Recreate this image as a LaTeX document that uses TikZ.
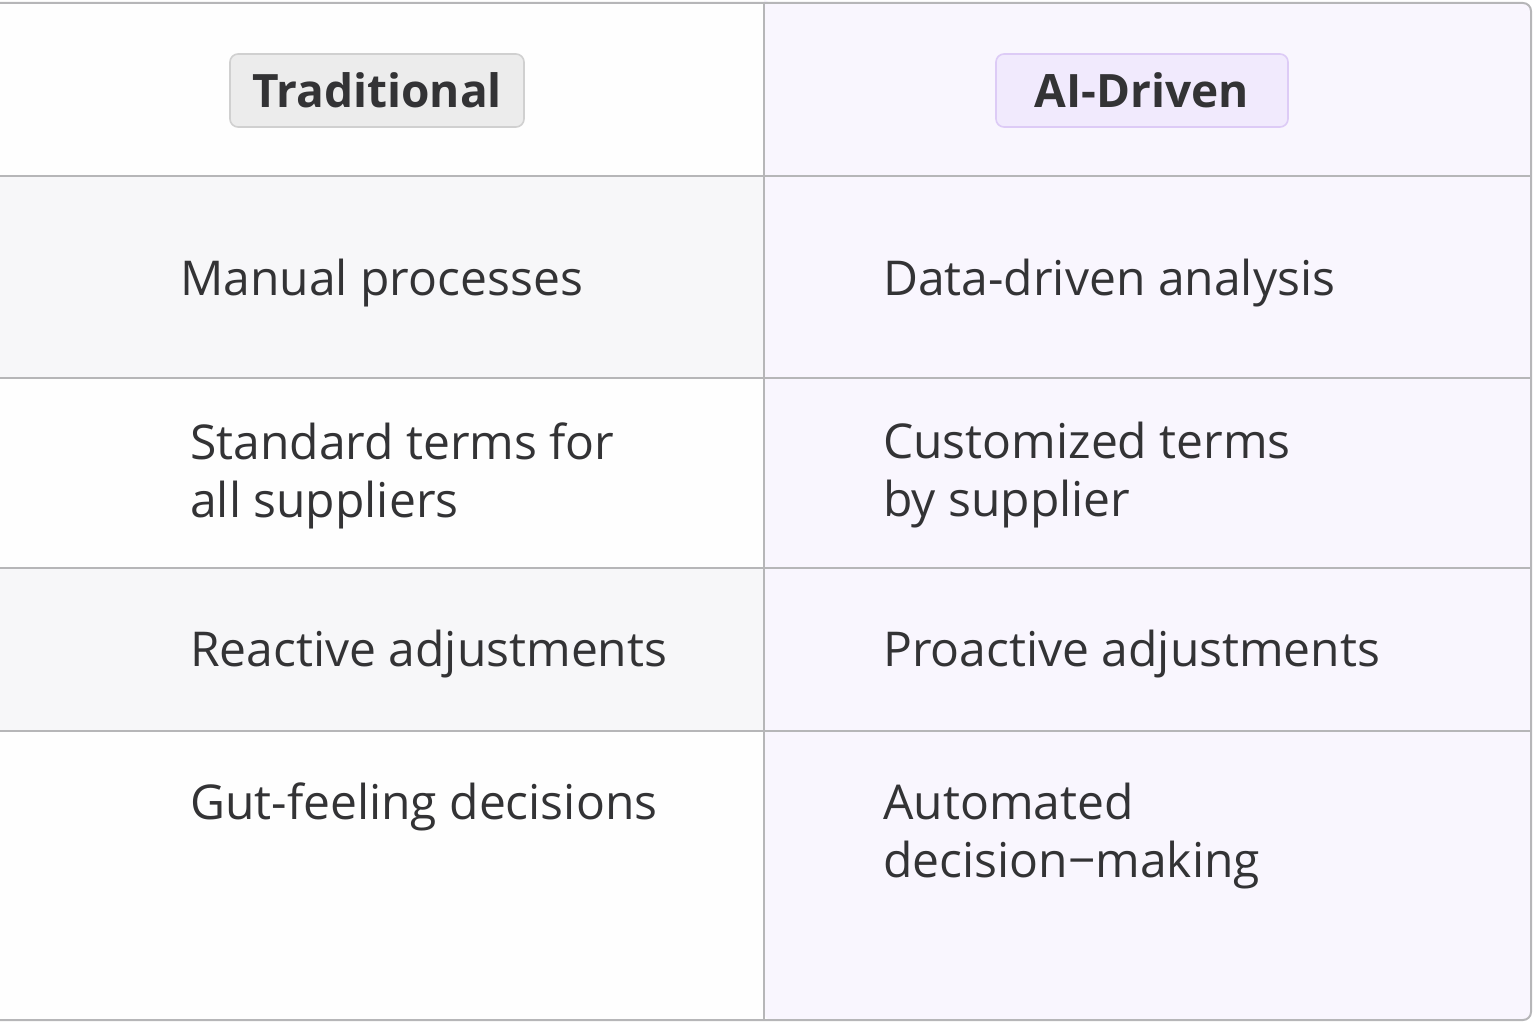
\documentclass[tikz,border=0pt]{standalone}
\usepackage{fontspec}
\setmainfont{Open Sans}
\definecolor{linec}{HTML}{B6B6B8}
\definecolor{txt}{HTML}{333335}
\definecolor{lav}{HTML}{F9F6FE}
\definecolor{gry}{HTML}{F7F7F9}
\definecolor{wht}{HTML}{FEFEFE}
\definecolor{badgeg}{HTML}{ECECEC}
\definecolor{badgegb}{HTML}{D0D0D0}
\definecolor{badgep}{HTML}{F1EAFD}
\definecolor{badgepb}{HTML}{DDCBF6}
\tikzset{
  x=1pt, y=-1pt,
  cell/.style={text=txt, font=\fontsize{48}{58}\selectfont, anchor=base west, inner sep=0pt},
  badge/.style={rounded corners=8pt, line width=1.6pt, minimum width=294pt, minimum height=73pt, inner sep=0pt, text=txt, font=\fontsize{46}{56}\selectfont\bfseries},
  grid/.style={draw=linec, line width=2pt}
}
\begin{document}
\begin{tikzpicture}
\useasboundingbox (0,0) rectangle (1536,1024);
% backgrounds
\fill[wht] (-10,3) rectangle (764,176);
\fill[gry] (-10,176) rectangle (764,378);
\fill[wht] (-10,378) rectangle (764,568);
\fill[gry] (-10,568) rectangle (764,731);
\fill[wht] (-10,731) rectangle (764,1020);
\fill[lav, rounded corners=8pt] (764,3) -| (1531,1020) -| (764,3) -- cycle;
% grid
\draw[grid, rounded corners=8pt] (-10,3) -| (1531,1020) -- (-10,1020);
\draw[grid] (764,3) -- (764,1020);
\foreach \yy in {176,378,568,731} \draw[grid] (-10,\yy) -- (1531,\yy);
% header badges
\node[badge, fill=badgeg, draw=badgegb] (hTrad) at (377,90.5) {Traditional};
\node[badge, fill=badgep, draw=badgepb, minimum width=292pt] (hAI) at (1142,90.5) {AI-Driven};
% left column
\node[cell] (l1) at (180,295) {Manual processes};
\node[cell] (l2a) at (190,459) {Standard terms for};
\node[cell] (l2b) at (190,517) {all suppliers};
\node[cell] (l3) at (190,666) {Reactive adjustments};
\node[cell] (l4) at (190,819) {Gut-feeling decisions};
% right column
\node[cell] (r1) at (883,295) {Data-driven analysis};
\node[cell] (r2a) at (883,458) {Customized terms};
\node[cell] (r2b) at (883,516) {by supplier};
\node[cell] (r3) at (883,666) {Proactive adjustments};
\node[cell] (r4a) at (883,819) {Automated};
\node[cell] (r4b) at (883,877) {decision−making};
\end{tikzpicture}
\end{document}
